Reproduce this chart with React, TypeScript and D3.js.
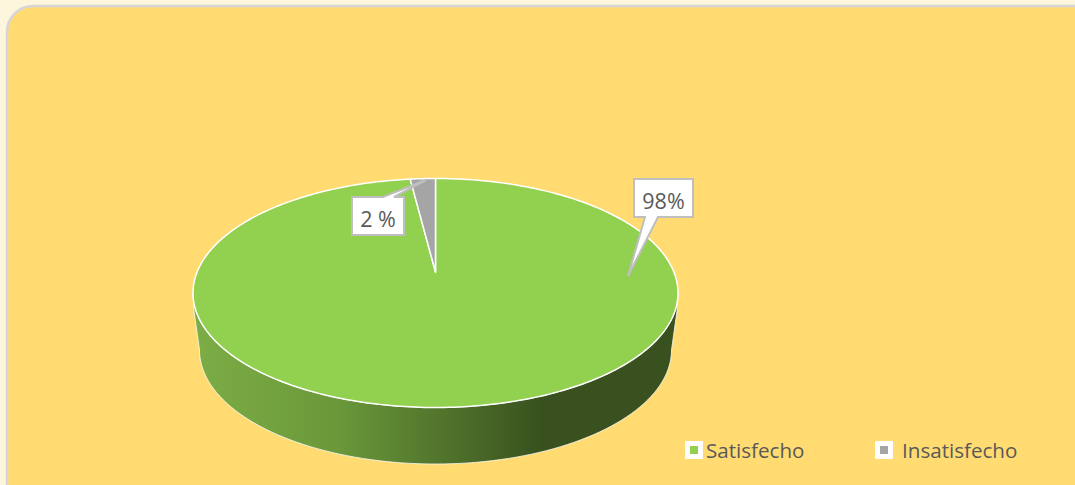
import React from "react";
import * as d3 from "d3";

// Survey result: share of respondents per satisfaction level
const categories = ["Satisfecho", "Insatisfecho"];
const shares = [98, 2];
const labels = ["98%", "2 %"];
const colors = ["#92D050", "#A5A5A5"];

const W = 1075;
const H = 485;
const FONT = "'Open Sans', sans-serif";

// Tilted disc geometry
const cx = 435.5;
const rimCy = 293;
const rimRx = 242.5;
const rimRy = 114.5;
const hubY = 272; // where the slices meet, shifted back by perspective
const baseCy = 350;
const baseRx = 236;
const baseRy = 114;

// Perspective projection of the unit disc onto the rim ellipse
const persp = (rimCy - hubY) / rimRy;
const ax = rimRx * Math.sqrt(1 - persp * persp);
const by = (1 + persp) * (hubY - (rimCy - rimRy));
const project = (theta: number): [number, number] => {
  const u = Math.sin(theta);
  const v = Math.cos(theta);
  const w = 1 + persp * v;
  return [cx + (ax * u) / w, hubY - (by * v) / w];
};

// The larger slice starts at 12 o'clock, the smaller closes just before it
const pie = d3.pie<number>().sort(null).startAngle(0).endAngle(2 * Math.PI);
const slices = pie(shares);
const line = d3.line();

const slicePath = (start: number, end: number) => {
  const steps = Math.max(4, Math.ceil((end - start) * 60));
  const pts = d3.range(steps + 1).map((i) => project(start + ((end - start) * i) / steps));
  return (line([[cx, hubY], ...pts]) as string) + "Z";
};

// Front wall: the lower half of the rim joined to the lower half of the base
const wallAngles = d3.range(0, 181, 2).map((d) => (d * Math.PI) / 180);
const rimFront = wallAngles.map((a): [number, number] => [
  cx + rimRx * Math.cos(a),
  rimCy + rimRy * Math.sin(a),
]);
const baseFront = wallAngles.map((a): [number, number] => [
  cx + baseRx * Math.cos(a),
  baseCy + baseRy * Math.sin(a),
]);
const wallPath =
  (line([[cx + rimRx - 1, rimCy + 18], ...baseFront]) as string) +
  "L" +
  [cx - rimRx + 1, rimCy + 18].join(",") +
  (line(rimFront.slice().reverse()) as string).replace("M", "L") +
  "Z";

type CalloutProps = {
  x: number;
  y: number;
  w: number;
  h: number;
  baseA: number;
  baseB: number;
  tip: [number, number];
  edge: "top" | "bottom";
  text: string;
};

// Speech-bubble label: a box with a wedge pointing at its slice
function Callout({ x, y, w, h, baseA, baseB, tip, edge, text }: CalloutProps) {
  const d =
    edge === "bottom"
      ? `M${x},${y}H${x + w}V${y + h}H${baseB}L${tip[0]},${tip[1]}L${baseA},${y + h}H${x}Z`
      : `M${x},${y}H${baseA}L${tip[0]},${tip[1]}L${baseB},${y}H${x + w}V${y + h}H${x}Z`;
  return (
    <g>
      <path d={d} fill="#FFFFFF" stroke="#BFBFBF" strokeWidth={2} />
      <text
        x={x + w / 2}
        y={y + h / 2 + 10.5}
        textAnchor="middle"
        fontFamily={FONT}
        fontSize={21.5}
        fill="#595959"
      >
        {text}
      </text>
    </g>
  );
}

const legendItems = [
  { swatch: 685, text: 706 },
  { swatch: 875, text: 902 },
];

export default function App() {
  return (
    <svg
      width={W}
      height={H}
      viewBox={`0 0 ${W} ${H}`}
      style={{ position: "fixed", left: 0, top: 0, display: "block" }}
    >
      <defs>
        <linearGradient id="wall" gradientUnits="userSpaceOnUse" x1={cx - rimRx} x2={cx + rimRx} y1={0} y2={0}>
          <stop offset="0" stopColor="#7DAD45" />
          <stop offset="0.3" stopColor="#6A983A" />
          <stop offset="0.72" stopColor="#39511E" />
          <stop offset="1" stopColor="#39511E" />
        </linearGradient>
      </defs>
      <rect width={W} height={H} fill="#FEF6DC" />
      <rect x={7} y={6} width={W + 40} height={H + 40} rx={26} fill="#FFDB71" stroke="#D6D6D6" strokeWidth={2.5} />

      <path d={wallPath} fill="url(#wall)" stroke="#FFFFFF" strokeOpacity={0.75} strokeWidth={1} />
      {slices.map((s, i) => (
        <path
          key={categories[i]}
          d={slicePath(s.startAngle, s.endAngle)}
          fill={colors[i]}
          stroke="#FFFFFF"
          strokeWidth={1.5}
          strokeLinejoin="round"
        />
      ))}

      <Callout x={634} y={179} w={59} h={38} baseA={645} baseB={658} tip={[628, 276]} edge="bottom" text={labels[0]} />
      <Callout x={352} y={197} w={52} h={38} baseA={383} baseB={394} tip={[426, 180]} edge="top" text={labels[1]} />

      {categories.map((c, i) => (
        <g key={c}>
          <rect x={legendItems[i].swatch} y={441} width={18} height={18} fill="#FFFFFF" />
          <rect x={legendItems[i].swatch + 5} y={446} width={8} height={8} fill={colors[i]} />
          <text x={legendItems[i].text} y={458} fontFamily={FONT} fontSize={20.6} fill="#595959">
            {c}
          </text>
        </g>
      ))}
    </svg>
  );
}
